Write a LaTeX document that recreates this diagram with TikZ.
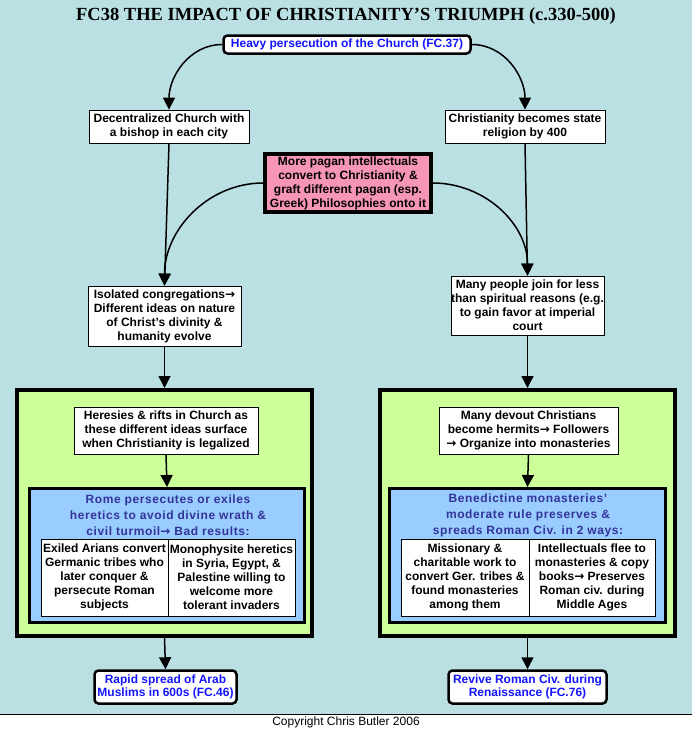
\documentclass[tikz,border=0pt]{standalone}
\usepackage{fontspec}
\setmainfont{Liberation Sans}
\newfontfamily\titlefont{Liberation Serif}
\newfontfamily\arrowfont{DejaVu Sans}
\newcommand{\ar}{{\arrowfont\bfseries →}}
\usetikzlibrary{arrows.meta}
\definecolor{bgblue}{RGB}{186,224,228}
\definecolor{boxgreen}{RGB}{204,255,153}
\definecolor{boxblue}{RGB}{153,204,255}
\definecolor{boxpink}{RGB}{246,150,180}
\definecolor{linkblue}{RGB}{20,20,255}
\definecolor{headblue}{RGB}{51,51,153}
\begin{document}
\begin{tikzpicture}[x=1pt,y=-1pt,
    txt/.style={font=\bfseries\fontsize{12}{14}\selectfont, align=center, inner sep=0pt},
    plainbox/.style={txt, draw, fill=white, line width=0.8pt},
    linkbox/.style={txt, draw, fill=white, text=linkblue, line width=2.5pt, rounded corners=4pt, font=\bfseries\fontsize{12}{13.5}\selectfont},
    pinkbox/.style={txt, draw, fill=boxpink, line width=3.5pt},
    greenbox/.style={draw, fill=boxgreen, line width=4pt, inner sep=0pt},
    bluebox/.style={draw, fill=boxblue, line width=3pt, inner sep=0pt},
    bluehead/.style={txt, text=headblue, font=\bfseries\fontsize{12}{16}\selectfont\addfontfeature{LetterSpace=5}},
    arr/.style={-{Triangle[width=12pt,length=12pt]}, line width=1.5pt}]
    \useasboundingbox (0,0) rectangle (692,731);
    \fill[bgblue] (0,0) rectangle (692,714);
    \draw[line width=0.8pt] (0,714) -- (692,714);
    \node[font=\titlefont\bfseries\fontsize{18.5}{20}\selectfont, inner sep=0pt] (title) at (346,16) {FC38 THE IMPACT OF CHRISTIANITY’S TRIUMPH (c.330-500)};
    \node[font=\fontsize{12}{14}\selectfont, inner sep=0pt] (copy) at (346,722) {Copyright Chris Butler 2006};
    % upper part
    \node[linkbox, minimum width=247pt, minimum height=18pt] (heavy) at (347,44.5) {Heavy persecution of the Church (FC.37)};
    \node[plainbox, minimum width=160pt, minimum height=33pt] (dec) at (169,126.5) {Decentralized Church with\\a bishop in each city};
    \node[plainbox, minimum width=160pt, minimum height=33pt] (state) at (525,126.5) {Christianity becomes state\\religion by 400};
    \node[pinkbox, minimum width=166pt, minimum height=58pt] (pagan) at (348,183) {More pagan intellectuals\\convert to Christianity \&\\graft different pagan (esp.\\Greek) Philosophies onto it};
    \node[plainbox, minimum width=153pt, minimum height=60pt] (iso) at (164.5,316) {Isolated congregations\ar\\Different ideas on nature\\of Christ’s divinity \&\\humanity evolve};
    \node[plainbox, minimum width=153pt, minimum height=59pt] (many) at (527.5,305.5) {Many people join for less\\than spiritual reasons (e.g.\\to gain favor at imperial\\court};
    % left block
    \node[greenbox, minimum width=295pt, minimum height=246pt] (grL) at (164.5,513) {};
    \node[plainbox, minimum width=184pt, minimum height=47pt] (heresy) at (166,430.5) {Heresies \& rifts in Church as\\these different ideas surface\\when Christianity is legalized};
    \node[bluebox, minimum width=275pt, minimum height=134pt] (blL) at (167,555.5) {};
    \node[bluehead] (rome) at (168,515) {Rome persecutes or exiles\\heretics to avoid divine wrath \&\\civil turmoil\ar{} Bad results:};
    \node[plainbox, minimum width=127pt, minimum height=77pt] (arian) at (104.5,577.5) {Exiled Arians convert\\Germanic tribes who\\later conquer \&\\persecute Roman\\subjects};
    \node[plainbox, minimum width=127pt, minimum height=77pt] (mono) at (231.5,577.5) {Monophysite heretics\\in Syria, Egypt, \&\\Palestine willing to\\welcome more\\tolerant invaders};
    % right block
    \node[greenbox, minimum width=295pt, minimum height=246pt] (grR) at (527.5,513) {};
    \node[plainbox, minimum width=179pt, minimum height=47pt] (hermit) at (528.5,430.5) {Many devout Christians\\become hermits\ar{} Followers\\\ar{} Organize into monasteries};
    \node[bluebox, minimum width=276pt, minimum height=134pt] (blR) at (527.5,555.5) {};
    \node[bluehead] (bened) at (528,515) {Benedictine monasteries’\\moderate rule preserves \&\\spreads Roman Civ. in 2 ways:};
    \node[plainbox, minimum width=128pt, minimum height=77pt] (mission) at (465,577.5) {Missionary \&\\charitable work to\\convert Ger. tribes \&\\found monasteries\\among them};
    \node[plainbox, minimum width=126pt, minimum height=77pt] (intel) at (592,577.5) {Intellectuals flee to\\monasteries \& copy\\books\ar{} Preserves\\Roman civ. during\\Middle Ages};
    % bottom links
    \node[linkbox, minimum width=142pt, minimum height=33pt] (arab) at (165.5,687) {Rapid spread of Arab\\Muslims in 600s (FC.46)};
    \node[linkbox, minimum width=158pt, minimum height=33pt] (revive) at (527.5,687) {Revive Roman Civ. during\\Renaissance (FC.76)};
    % connectors
    \draw[arr] (heavy.west) to[out=180,in=90] (dec.north);
    \draw[arr] (heavy.east) to[out=0,in=90] (state.north);
    \draw[arr] (dec.south) -- (iso.north);
    \draw[arr] (state.south) -- (many.north);
    \draw[arr] (pagan.west) to[out=180,in=90] (iso.north);
    \draw[arr] (pagan.east) to[out=0,in=90] (many.north);
    \draw[arr] (iso.south) -- (grL.north);
    \draw[arr] (many.south) -- (grR.north);
    \draw[arr] (heresy.south) -- (blL.north);
    \draw[arr] (hermit.south) -- (blR.north);
    \draw[arr] (grL.south) -- (arab.north);
    \draw[arr] (grR.south) -- (revive.north);
\end{tikzpicture}
\end{document}
